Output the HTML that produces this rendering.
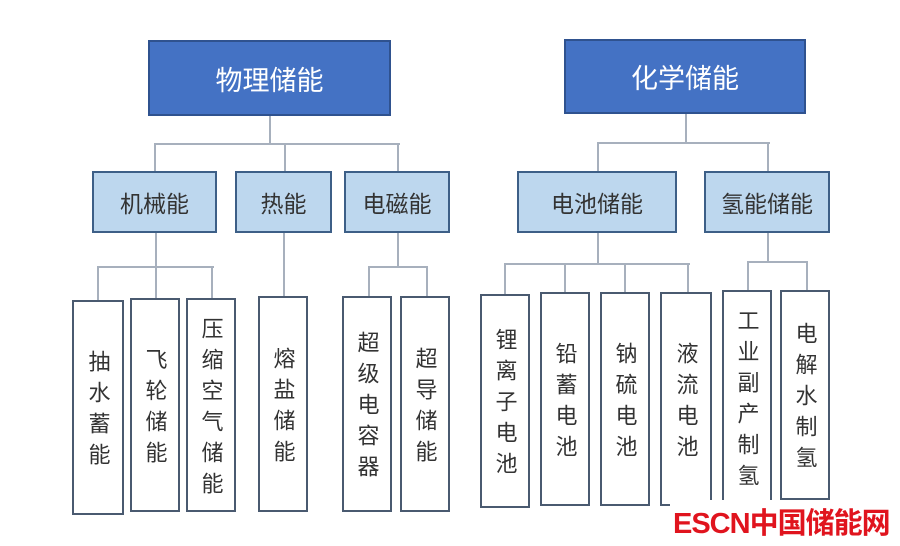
<!DOCTYPE html>
<html><head><meta charset="utf-8"><style>
body{margin:0;width:900px;height:546px;background:#fff;position:relative;overflow:hidden;font-family:"Liberation Sans","Noto Sans CJK SC",sans-serif}
.b{position:absolute;box-sizing:border-box;display:flex;align-items:center;justify-content:center;text-align:center}
.t{background:#4472c4;border:2px solid #2f528f;color:#fff;font-size:27px}
.m{background:#bdd7ee;border:2px solid #3d5f87;color:#333;font-size:23px}
.l{background:#fff;border:2px solid #4a5a70;color:#333;font-size:22px;line-height:31px;writing-mode:vertical-rl;letter-spacing:9px;padding-top:9px}
.h{position:absolute;height:2px;background:#a7b0bd}
.v{position:absolute;width:2px;background:#a7b0bd}
.w{position:absolute;left:670px;top:500px;font-size:29px;font-weight:bold;color:#e0141e;letter-spacing:-1px;background:#fff;padding:0 3px}
</style></head><body>
<div class="v" style="left:269px;top:116px;height:28px"></div>
<div class="h" style="left:155px;top:143px;width:245px"></div>
<div class="v" style="left:154px;top:143px;height:28px"></div>
<div class="v" style="left:284px;top:143px;height:28px"></div>
<div class="v" style="left:397px;top:143px;height:28px"></div>
<div class="v" style="left:155px;top:233px;height:34px"></div>
<div class="h" style="left:97px;top:266px;width:117px"></div>
<div class="v" style="left:97px;top:266px;height:34px"></div>
<div class="v" style="left:155px;top:266px;height:32px"></div>
<div class="v" style="left:211px;top:266px;height:32px"></div>
<div class="v" style="left:283px;top:233px;height:63px"></div>
<div class="v" style="left:397px;top:233px;height:34px"></div>
<div class="h" style="left:368px;top:266px;width:60px"></div>
<div class="v" style="left:368px;top:266px;height:30px"></div>
<div class="v" style="left:426px;top:266px;height:30px"></div>

<div class="v" style="left:685px;top:114px;height:29px"></div>
<div class="h" style="left:597px;top:142px;width:173px"></div>
<div class="v" style="left:597px;top:142px;height:29px"></div>
<div class="v" style="left:767px;top:142px;height:29px"></div>
<div class="v" style="left:597px;top:233px;height:31px"></div>
<div class="h" style="left:504px;top:263px;width:186px"></div>
<div class="v" style="left:504px;top:263px;height:31px"></div>
<div class="v" style="left:564px;top:263px;height:29px"></div>
<div class="v" style="left:624px;top:263px;height:29px"></div>
<div class="v" style="left:687px;top:263px;height:29px"></div>
<div class="v" style="left:767px;top:233px;height:29px"></div>
<div class="h" style="left:747px;top:261px;width:61px"></div>
<div class="v" style="left:747px;top:261px;height:29px"></div>
<div class="v" style="left:806px;top:261px;height:29px"></div>

<div class="b t" style="left:148px;top:40px;width:243px;height:76px">物理储能</div>
<div class="b t" style="left:564px;top:39px;width:242px;height:75px">化学储能</div>
<div class="b m" style="left:92px;top:171px;width:125px;height:62px">机械能</div>
<div class="b m" style="left:235px;top:171px;width:97px;height:62px">热能</div>
<div class="b m" style="left:344px;top:171px;width:106px;height:62px">电磁能</div>
<div class="b m" style="left:517px;top:171px;width:160px;height:62px">电池储能</div>
<div class="b m" style="left:704px;top:171px;width:126px;height:62px">氢能储能</div>

<div class="b l" style="left:72px;top:300px;width:52px;height:215px">抽水蓄能</div>
<div class="b l" style="left:130px;top:298px;width:50px;height:214px">飞轮储能</div>
<div class="b l" style="left:186px;top:298px;width:50px;height:214px">压缩空气储能</div>
<div class="b l" style="left:258px;top:296px;width:50px;height:216px">熔盐储能</div>
<div class="b l" style="left:342px;top:296px;width:50px;height:216px">超级电容器</div>
<div class="b l" style="left:400px;top:296px;width:50px;height:216px">超导储能</div>
<div class="b l" style="left:480px;top:294px;width:50px;height:214px">锂离子电池</div>
<div class="b l" style="left:540px;top:292px;width:50px;height:214px">铅蓄电池</div>
<div class="b l" style="left:600px;top:292px;width:50px;height:214px">钠硫电池</div>
<div class="b l" style="left:660px;top:292px;width:52px;height:214px">液流电池</div>
<div class="b l" style="left:722px;top:290px;width:50px;height:214px">工业副产制氢</div>
<div class="b l" style="left:780px;top:290px;width:50px;height:210px">电解水制氢</div>
<div class="w">ESCN中国储能网</div>
</body></html>
